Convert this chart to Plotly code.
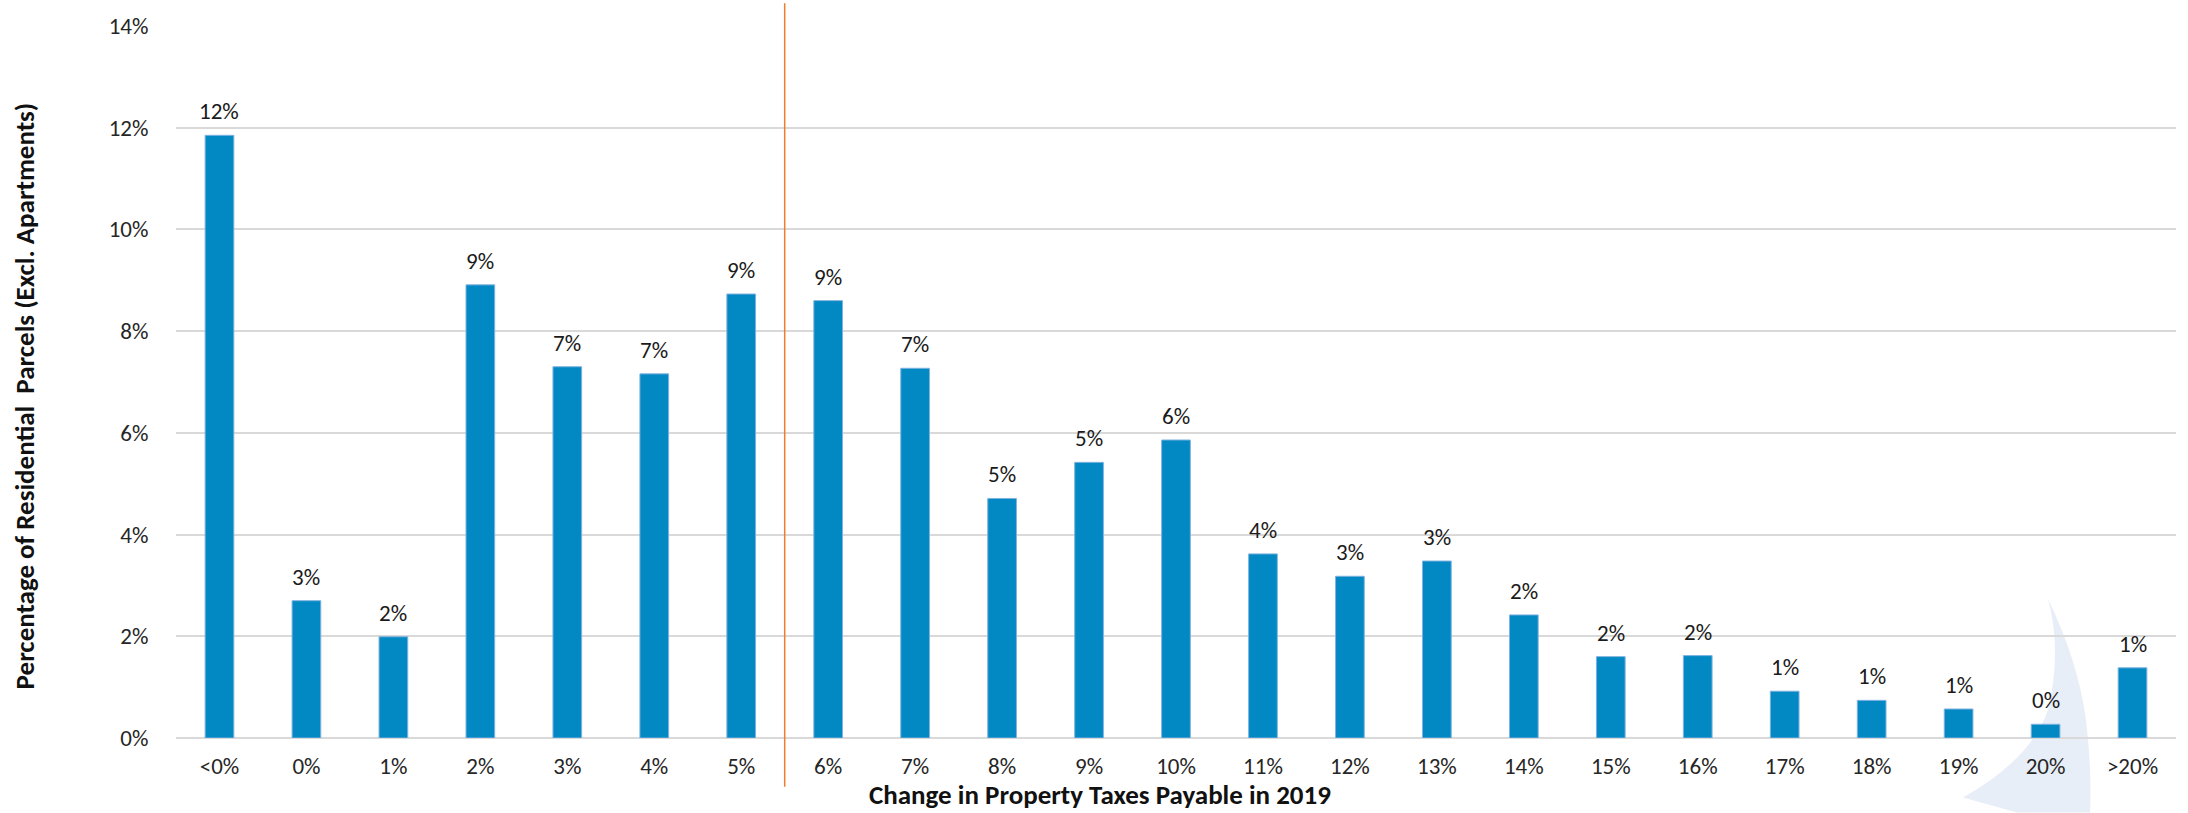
import plotly.graph_objects as go

categories = ["<0%", "0%", "1%", "2%", "3%", "4%", "5%", "6%", "7%", "8%", "9%", "10%",
              "11%", "12%", "13%", "14%", "15%", "16%", "17%", "18%", "19%", "20%", ">20%"]
shares = [11.85, 2.70, 1.99, 8.91, 7.30, 7.16, 8.73, 8.60, 7.27, 4.71, 5.42, 5.86,
          3.62, 3.18, 3.48, 2.42, 1.60, 1.62, 0.92, 0.74, 0.57, 0.27, 1.38]
labels = [f"{round(v)}%" for v in shares]
y_ticks = [0, 2, 4, 6, 8, 10, 12, 14]
y_tick_text = [f"{v}%" for v in y_ticks]
divider_after = "5%"

W, H = 2188, 813
ML, MR, MT, MB = 176, 12, 21, 75
PW, PH = W - ML - MR, H - MT - MB

FONT = "Carlito, Lato, 'Open Sans', sans-serif"

def px2paper(px, py):
    return (px - ML) / PW, (H - MB - py) / PH

fig = go.Figure()
fig.add_trace(go.Bar(
    x=categories, y=shares,
    marker=dict(color="#0288C2", line=dict(color="#7FB2E0", width=1)),
    width=0.33, hoverinfo="x+y",
))

# data labels above bars
for c, v, t in zip(categories, shares, labels):
    fig.add_annotation(x=c, y=v, text=t, showarrow=False, yshift=24,
                       xanchor="center", yanchor="middle",
                       font=dict(family=FONT, size=23, color="#1a1a1a"))

def P(p):
    x, y = px2paper(*p)
    return f"{x:.5f},{y:.5f}"

# decorative watermark swoosh (bottom right)
path = ("M " + P((2048, 598)) +
        " Q " + P((2078, 660)) + " " + P((2086, 720)) +
        " Q " + P((2092, 770)) + " " + P((2090, 813)) +
        " L " + P((2017, 813)) + " L " + P((1963, 798)) +
        " Q " + P((2030, 760)) + " " + P((2048, 710)) +
        " Q " + P((2062, 650)) + " " + P((2048, 598)) + " Z")
fig.add_shape(type="path", path=path, xref="paper", yref="paper",
              fillcolor="#E8EEF7", line=dict(width=0), layer="below")

# vertical divider between 5% and 6%
idx = categories.index(divider_after)
fig.add_shape(type="line", x0=idx + 0.5, x1=idx + 0.5, xref="x",
              y0=px2paper(0, -2)[1], y1=px2paper(0, 787)[1], yref="paper",
              line=dict(color="#ED7D31", width=1.5), layer="above")

fig.add_annotation(text="Change in Property Taxes Payable in 2019",
                   x=px2paper(1100, 0)[0], y=px2paper(0, 795)[1], xref="paper", yref="paper",
                   showarrow=False, font=dict(family=FONT, size=27, color="#111111", weight="bold"),
                   xanchor="center", yanchor="middle")
fig.add_annotation(text="Percentage of Residential  Parcels (Excl. Apartments)",
                   x=px2paper(24, 0)[0], y=px2paper(0, 394)[1], xref="paper", yref="paper",
                   showarrow=False, textangle=-90,
                   font=dict(family=FONT, size=27, color="#111111", weight="bold"),
                   xanchor="center", yanchor="middle")

fig.update_layout(
    width=W, height=H,
    margin=dict(l=ML, r=MR, t=MT, b=MB, pad=0),
    paper_bgcolor="white", plot_bgcolor="white",
    showlegend=False,
    font=dict(family=FONT, size=23, color="#262626"),
)
fig.update_xaxes(type="category", showgrid=False, showline=False, zeroline=False,
                 tickfont=dict(family=FONT, size=23, color="#262626"),
                 ticks="outside", ticklen=7, tickcolor="rgba(0,0,0,0)")
fig.update_yaxes(range=[0, 14], tickmode="array", tickvals=y_ticks, ticktext=y_tick_text,
                 showgrid=True, gridcolor="#D9D9D9", gridwidth=1.5,
                 zeroline=True, zerolinecolor="#D9D9D9", zerolinewidth=1.5,
                 showline=False,
                 tickfont=dict(family=FONT, size=23, color="#262626"),
                 ticks="outside", ticklen=22, tickcolor="rgba(0,0,0,0)")

fig.write_html("out.html", config={"displayModeBar": False},
               post_script="document.body.style.margin='0';")
